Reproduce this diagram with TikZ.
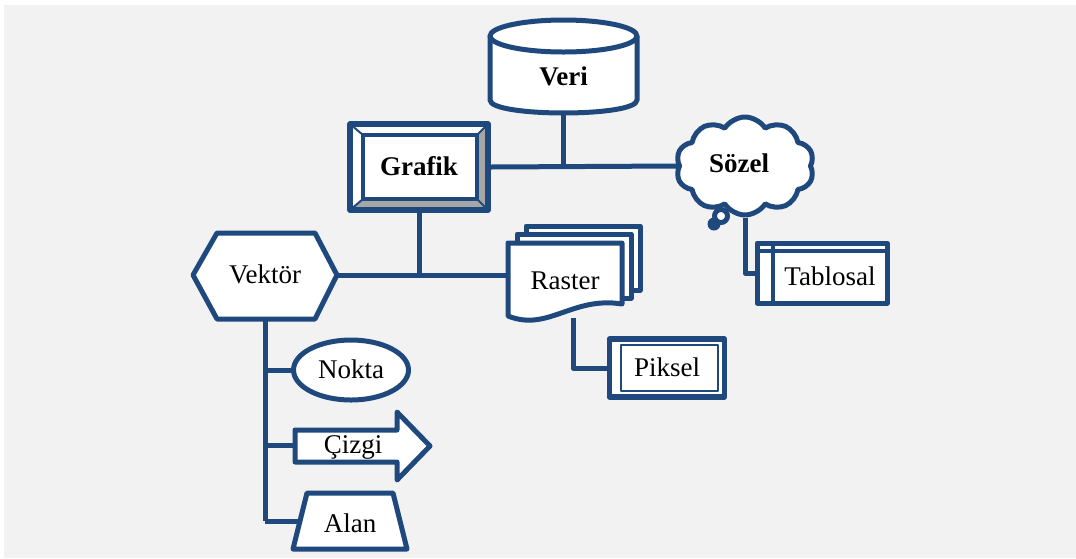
\documentclass[tikz,border=0pt]{standalone}
\usepackage{fontspec}
\setmainfont{Liberation Serif}
\usetikzlibrary{shapes.geometric,shapes.symbols}
\definecolor{dblue}{HTML}{1F497D}
\definecolor{bgc}{HTML}{F2F2F2}
\definecolor{bev}{HTML}{A6A6A6}
\begin{document}
\begin{tikzpicture}[x=1pt,y=-1pt,line join=round,
  ln/.style={draw=dblue,line width=5pt},
  lbl/.style={font=\fontsize{27}{30}\selectfont,inner sep=0pt,text height=17.8pt,text depth=0pt},
  bl/.style={font=\fontsize{27}{30}\selectfont\bfseries,inner sep=0pt,text height=17.8pt,text depth=0pt}]
\useasboundingbox (0,0) rectangle (1076,558);
\fill[bgc] (4,5) rectangle (1076,558);

% Veri (cylinder)
\path[fill=white] (490,36) -- (490,100) .. controls (490,117.3) and (637,117.3) .. (637,100) -- (637,36) -- cycle;
\draw[ln] (490,36) -- (490,100) .. controls (490,117.3) and (637,117.3) .. (637,100) -- (637,36);
\draw[ln,fill=white] (563.5,36) ellipse [x radius=73.5,y radius=16];
\node[bl,minimum width=147pt,minimum height=72pt] (veri) at (563.5,77) {Veri};

% Grafik (bevel)
\fill[white] (350,124) rectangle (488,210);
\fill[bev] (488,124) -- (488,210) -- (350,210) -- (363,199) -- (477,199) -- (477,135) -- cycle;
\draw[dblue,line width=2pt] (350,124) -- (363,135) (488,124) -- (477,135) (350,210) -- (363,199) (488,210) -- (477,199);
\draw[dblue,line width=4.5pt] (363,135) rectangle (477,199);
\node[bl,draw=dblue,line width=5.5pt,minimum width=138pt,minimum height=86pt] (grafik) at (419,167) {Grafik};

% Sözel (cloud)
\node[bl,cloud,draw=dblue,fill=white,line width=5pt,cloud puffs=10,cloud puff arc=115,aspect=1.4,minimum width=138pt,minimum height=98pt] (sozel) at (745,166) {\raisebox{2.5pt}{Sözel\hspace{12pt}}};
\draw[ln,fill=white] (721,216) circle (6.5);
\fill[dblue] (714,224) circle (6.5);

% Tablosal (internal storage)
\node[lbl,draw=dblue,fill=white,line width=5pt,minimum width=130pt,minimum height=60pt] (tablosal) at (822,273) {\raisebox{-4pt}{\hspace{16pt}Tablosal}};
\draw[dblue,line width=4pt] (757,251) -- (887,251) (773,243) -- (773,303);

% Raster (multidocument)
\draw[ln,fill=white] (526,226) rectangle (640,290);
\draw[ln,fill=white] (517,234) rectangle (631,298);
\draw[ln,fill=white] (508,243) -- (622,243) -- (622,304) .. controls (572,296) and (548,332) .. (508,316) -- cycle;
\node[lbl,minimum width=114pt,minimum height=75pt] (raster) at (565,280.5) {Raster};

% Piksel (double frame)
\node[lbl,draw=dblue,fill=white,line width=5.5pt,minimum width=115pt,minimum height=58pt] (piksel) at (667,368) {Piksel};
\draw[dblue,line width=2.5pt] (621,345) rectangle (718,391);

% Vektör (hexagon)
\draw[ln,fill=white] (193,275) -- (217,233) -- (315,233) -- (337,275) -- (315,319) -- (217,319) -- cycle;
\node[lbl,minimum width=144pt,minimum height=86pt] (vektor) at (265,275) {Vektör};

% Nokta
\node[lbl,ellipse,draw=dblue,fill=white,line width=5pt,minimum width=115pt,minimum height=60pt] (nokta) at (351,370) {Nokta};

% Çizgi (arrow)
\draw[ln,fill=white] (295,430) -- (397,430) -- (397,412) -- (430,446) -- (397,480) -- (397,462) -- (295,462) -- cycle;
\node[lbl,minimum width=116pt,minimum height=32pt] (cizgi) at (353,445) {Çizgi};

% Alan (trapezoid)
\draw[ln,fill=white] (307,493) -- (393,493) -- (407,549) -- (293,549) -- cycle;
\node[lbl,minimum width=100pt,minimum height=56pt] (alan) at (350,521) {\raisebox{-2.5pt}{Alan}};

% connectors
\draw[ln] (veri.south) -- (veri.south |- grafik.east);
\draw[ln] (grafik.east) -- (sozel.west);
\draw[ln] (grafik.south) -- (grafik.south |- vektor.east);
\draw[ln] (vektor.east) -- (vektor.east -| raster.west);
\draw[ln] ([xshift=8pt]raster.south) |- (piksel.west);
\draw[ln] (sozel.south) |- (tablosal.west);
\draw[ln] (vektor.south) -- (vektor.south |- alan.west);
\draw[ln] (vektor.south |- nokta.west) -- (nokta.west);
\draw[ln] (vektor.south |- cizgi.west) -- (cizgi.west);
\draw[ln] (vektor.south |- alan.west) -- (alan.west);
\end{tikzpicture}
\end{document}
